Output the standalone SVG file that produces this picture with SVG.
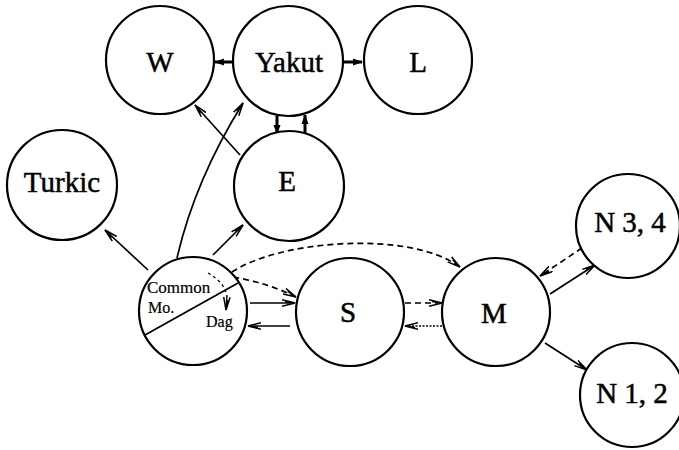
<svg xmlns="http://www.w3.org/2000/svg" width="679" height="450" viewBox="0 0 679 450">
<style>
.node circle{fill:#fff;stroke:#000;stroke-width:2.2}
.lbl{font-family:"Liberation Serif","Times New Roman",serif;font-size:29px;text-anchor:middle;fill:#000;stroke:#000;stroke-width:0.5}
.sm{font-family:"Liberation Serif","Times New Roman",serif;fill:#000;stroke:#000;stroke-width:0.2}
.c{fill:none;stroke:#000;stroke-width:1.7}
.d{stroke-dasharray:6,4}
.dt{stroke-dasharray:2,1.5}
.th{stroke-width:3}
</style>
<defs>
<marker id="ah" viewBox="0 0 14 8" refX="13" refY="4" markerWidth="14" markerHeight="8" orient="auto" markerUnits="userSpaceOnUse">
<path d="M0,0.8 L13,4 L0,7.2 M3,2.6 L13,4" fill="none" stroke="#000" stroke-width="1.5"/>
</marker>
<marker id="hb" viewBox="0 0 10 8" refX="9" refY="4" markerWidth="10" markerHeight="8" orient="auto" markerUnits="userSpaceOnUse">
<path d="M0,0.5 L10,4 L0,7.5 z" fill="#000"/>
</marker>
</defs>
<g id="connectors">
<line class="c th" x1="233" y1="62" x2="215" y2="62" marker-end="url(#hb)"/>
<line class="c th" x1="344" y1="62" x2="362" y2="62" marker-end="url(#hb)"/>
<line class="c th" x1="277" y1="116" x2="277" y2="134" marker-end="url(#hb)"/>
<line class="c th" x1="305" y1="134" x2="305" y2="115" marker-end="url(#hb)"/>
<line class="c" x1="240" y1="155" x2="195" y2="105" marker-end="url(#ah)"/>
<path class="c" d="M177,258 Q195,180 243,103" marker-end="url(#ah)"/>
<line class="c" x1="213" y1="255" x2="243" y2="225" marker-end="url(#ah)"/>
<line class="c" x1="148" y1="270" x2="105" y2="230" marker-end="url(#ah)"/>
<path class="c d" d="M232,272 C280,240 410,230 460,267" marker-end="url(#ah)"/>
<path class="c d" d="M233,277 Q268,283 296,297" marker-end="url(#ah)"/>
<line class="c" x1="250" y1="303" x2="295" y2="303" marker-end="url(#ah)"/>
<line class="c" x1="290" y1="326" x2="248" y2="326" marker-end="url(#ah)"/>
<line class="c d" x1="405" y1="303" x2="442" y2="303" marker-end="url(#ah)"/>
<line class="c dt" x1="442" y1="326" x2="405" y2="326" marker-end="url(#ah)"/>
<line class="c d" x1="582" y1="248" x2="540" y2="276" marker-end="url(#ah)"/>
<line class="c" x1="550" y1="294" x2="595" y2="265" marker-end="url(#ah)"/>
<line class="c" x1="545" y1="343" x2="587" y2="370" marker-end="url(#ah)"/>
</g>
<g id="W" class="node"><circle cx="160" cy="60" r="54"/><text class="lbl" x="160" y="72">W</text></g>
<g id="Yakut" class="node"><circle cx="288" cy="61" r="55"/><text class="lbl" x="289" y="72">Yakut</text></g>
<g id="L" class="node"><circle cx="418" cy="60" r="54"/><text class="lbl" x="418" y="72">L</text></g>
<g id="E" class="node"><circle cx="289" cy="186" r="55"/><text class="lbl" x="287" y="191">E</text></g>
<g id="Turkic" class="node"><circle cx="62" cy="185" r="55"/><text class="lbl" x="62" y="192">Turkic</text></g>
<g id="S" class="node"><circle cx="350" cy="312" r="54"/><text class="lbl" x="348" y="322">S</text></g>
<g id="M" class="node"><circle cx="496" cy="312" r="54"/><text class="lbl" x="494" y="323">M</text></g>
<g id="N34" class="node"><circle cx="628" cy="226" r="52"/><text class="lbl" x="630" y="232">N 3, 4</text></g>
<g id="N12" class="node"><circle cx="632" cy="395" r="52"/><text class="lbl" x="632" y="403">N 1, 2</text></g>
<g id="Common" class="node">
<circle cx="193" cy="311" r="54"/>
<line x1="145" y1="335" x2="238" y2="283" stroke="#000" stroke-width="1.8"/>
<path d="M208,273 Q222,281 226,292" fill="none" stroke="#000" stroke-width="1.2" stroke-dasharray="3,3"/>
<path d="M227,295 L226,310" fill="none" stroke="#000" stroke-width="1.4" marker-end="url(#ah)"/>
<text class="sm" x="147" y="293" font-size="17">Common</text>
<text class="sm" x="148" y="313" font-size="16">Mo.</text>
<text class="sm" x="206" y="327" font-size="16">Dag</text>
</g>
</svg>
